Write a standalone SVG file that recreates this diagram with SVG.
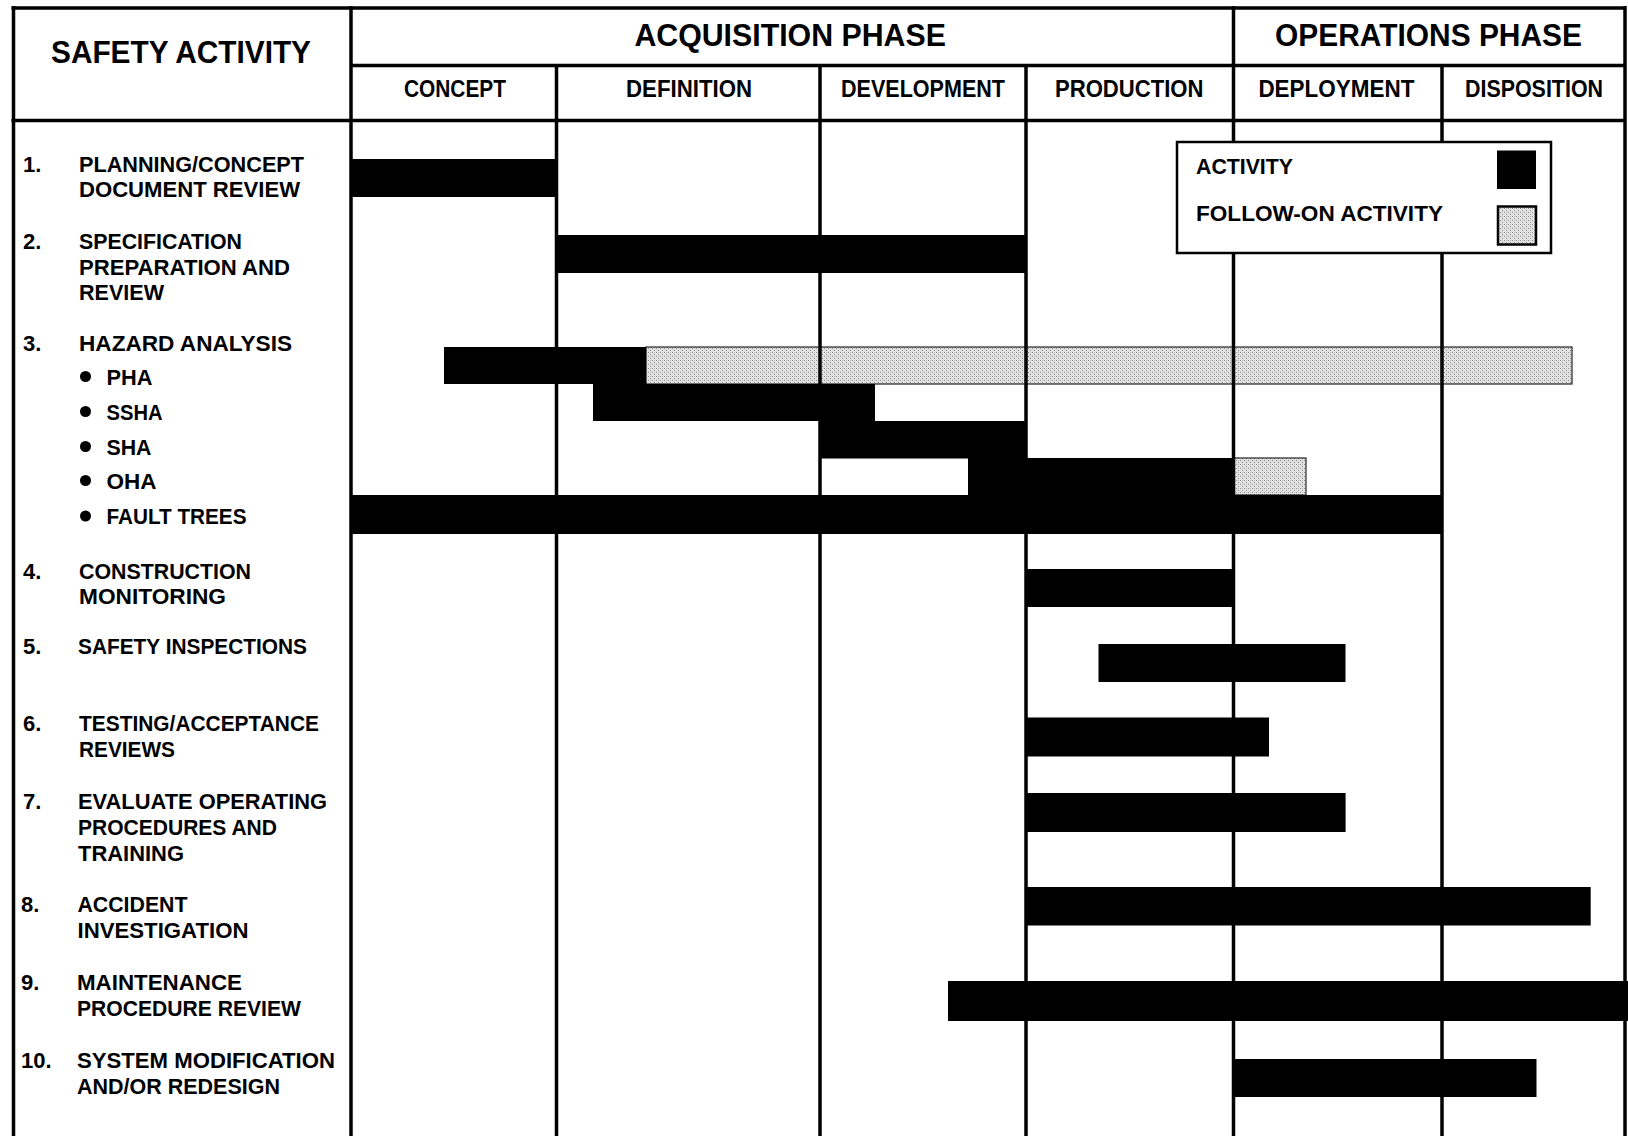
<svg xmlns="http://www.w3.org/2000/svg" width="1628" height="1136" viewBox="0 0 1628 1136">
  <style>
    text { font-family: "Liberation Sans", Arial, sans-serif; font-weight: 700; fill: #000; }
    .title { font-size: 32px; }
    .sub { font-size: 23px; }
    .lbl { font-size: 22px; }
    .leg { font-size: 22px; }
    .line { stroke: #000; stroke-width: 3.5; fill: none; }
    .bar { fill: #000; }
    .follow { fill: url(#stipple); stroke: #222; stroke-width: 1.2; }
  </style>
  <defs>
    <!-- halftone dot screen for follow-on activity -->
    <pattern id="stipple" width="4" height="4" patternUnits="userSpaceOnUse">
      <rect width="4" height="4" fill="#e2e2e2"/>
      <rect x="0" y="0" width="1" height="1" fill="#8a8a8a"/>
      <rect x="2" y="2" width="1" height="1" fill="#8a8a8a"/>
      <rect x="2" y="0" width="1" height="1" fill="#c4c4c4"/>
    </pattern>
  </defs>

  <rect width="1628" height="1136" fill="#fff"/>

  <!-- follow-on bars sit beneath the grid lines -->
  <g id="follow-on-bars">
    <rect class="follow" x="646" y="347" width="926" height="37"/>
    <rect class="follow" x="1233.5" y="458" width="72.5" height="37"/>
  </g>

  <!-- table frame and phase columns -->
  <g id="grid">
    <line class="line" x1="11.5" y1="8" x2="1626" y2="8"/>
    <line class="line" x1="351" y1="65.5" x2="1626" y2="65.5"/>
    <line class="line" x1="11.5" y1="120.5" x2="1626" y2="120.5"/>
    <line class="line" x1="13.5" y1="6" x2="13.5" y2="1136"/>
    <line class="line" x1="351" y1="6" x2="351" y2="1136"/>
    <line class="line" x1="556.5" y1="65.5" x2="556.5" y2="1136"/>
    <line class="line" x1="820" y1="65.5" x2="820" y2="1136"/>
    <line class="line" x1="1026" y1="65.5" x2="1026" y2="1136"/>
    <line class="line" x1="1233.5" y1="6" x2="1233.5" y2="1136"/>
    <line class="line" x1="1442" y1="65.5" x2="1442" y2="1136"/>
    <line class="line" x1="1625" y1="6" x2="1625" y2="1136"/>
  </g>

  <!-- column headings -->
  <g id="header">
    <text class="title" x="51" y="62.5" textLength="260" lengthAdjust="spacingAndGlyphs">SAFETY ACTIVITY</text>
    <text class="title" x="634.4" y="45.5" textLength="311.5" lengthAdjust="spacingAndGlyphs">ACQUISITION PHASE</text>
    <text class="title" x="1275" y="45.5" textLength="307" lengthAdjust="spacingAndGlyphs">OPERATIONS PHASE</text>
    <text class="sub" x="404" y="96.5" textLength="102" lengthAdjust="spacingAndGlyphs">CONCEPT</text>
    <text class="sub" x="626" y="96.5" textLength="126" lengthAdjust="spacingAndGlyphs">DEFINITION</text>
    <text class="sub" x="841" y="96.5" textLength="164" lengthAdjust="spacingAndGlyphs">DEVELOPMENT</text>
    <text class="sub" x="1055" y="96.5" textLength="148.5" lengthAdjust="spacingAndGlyphs">PRODUCTION</text>
    <text class="sub" x="1258.4" y="96.5" textLength="156" lengthAdjust="spacingAndGlyphs">DEPLOYMENT</text>
    <text class="sub" x="1465" y="96.5" textLength="138" lengthAdjust="spacingAndGlyphs">DISPOSITION</text>
  </g>

  <!-- activity list -->
  <g id="activity-1">
    <text class="lbl" x="23" y="171.5">1.</text>
    <text class="lbl" x="79" y="171.5" textLength="225" lengthAdjust="spacingAndGlyphs">PLANNING/CONCEPT</text>
    <text class="lbl" x="79" y="197" textLength="221" lengthAdjust="spacingAndGlyphs">DOCUMENT REVIEW</text>
    <rect class="bar" x="351" y="159" width="206" height="38"/>
  </g>
  <g id="activity-2">
    <text class="lbl" x="23" y="249">2.</text>
    <text class="lbl" x="79" y="249" textLength="163" lengthAdjust="spacingAndGlyphs">SPECIFICATION</text>
    <text class="lbl" x="79" y="275" textLength="211" lengthAdjust="spacingAndGlyphs">PREPARATION AND</text>
    <text class="lbl" x="79" y="300" textLength="85" lengthAdjust="spacingAndGlyphs">REVIEW</text>
    <rect class="bar" x="556.5" y="235" width="469.5" height="38"/>
  </g>
  <g id="activity-3">
    <text class="lbl" x="23" y="351">3.</text>
    <text class="lbl" x="79" y="351" textLength="213" lengthAdjust="spacingAndGlyphs">HAZARD ANALYSIS</text>
    <circle cx="85.5" cy="376.5" r="5.5"/>
    <text class="lbl" x="106.5" y="384.5" textLength="46" lengthAdjust="spacingAndGlyphs">PHA</text>
    <circle cx="85.5" cy="411.5" r="5.5"/>
    <text class="lbl" x="106.5" y="419.5" textLength="56" lengthAdjust="spacingAndGlyphs">SSHA</text>
    <circle cx="85.5" cy="446.5" r="5.5"/>
    <text class="lbl" x="106.5" y="454.5" textLength="45" lengthAdjust="spacingAndGlyphs">SHA</text>
    <circle cx="85.5" cy="480.5" r="5.5"/>
    <text class="lbl" x="106.5" y="488.5" textLength="50" lengthAdjust="spacingAndGlyphs">OHA</text>
    <circle cx="85.5" cy="516" r="5.5"/>
    <text class="lbl" x="106.5" y="524" textLength="140" lengthAdjust="spacingAndGlyphs">FAULT TREES</text>
    <rect class="bar" x="444" y="347" width="202" height="37"/>
    <rect class="bar" x="593" y="384" width="282" height="37"/>
    <rect class="bar" x="820" y="421" width="206" height="37.5"/>
    <rect class="bar" x="968" y="458" width="265.5" height="37.5"/>
    <rect class="bar" x="351" y="495" width="1091" height="39"/>
  </g>
  <g id="activity-4">
    <text class="lbl" x="23" y="578.5">4.</text>
    <text class="lbl" x="79" y="578.5" textLength="172" lengthAdjust="spacingAndGlyphs">CONSTRUCTION</text>
    <text class="lbl" x="79" y="603.5" textLength="147" lengthAdjust="spacingAndGlyphs">MONITORING</text>
    <rect class="bar" x="1026" y="569" width="207.5" height="38"/>
  </g>
  <g id="activity-5">
    <text class="lbl" x="23" y="654">5.</text>
    <text class="lbl" x="78" y="654" textLength="229" lengthAdjust="spacingAndGlyphs">SAFETY INSPECTIONS</text>
    <rect class="bar" x="1098.5" y="644" width="247" height="38"/>
  </g>
  <g id="activity-6">
    <text class="lbl" x="23" y="731">6.</text>
    <text class="lbl" x="79" y="731" textLength="240" lengthAdjust="spacingAndGlyphs">TESTING/ACCEPTANCE</text>
    <text class="lbl" x="79" y="757" textLength="96" lengthAdjust="spacingAndGlyphs">REVIEWS</text>
    <rect class="bar" x="1026" y="717.5" width="243" height="39"/>
  </g>
  <g id="activity-7">
    <text class="lbl" x="23" y="808.5">7.</text>
    <text class="lbl" x="78" y="808.5" textLength="249" lengthAdjust="spacingAndGlyphs">EVALUATE OPERATING</text>
    <text class="lbl" x="78" y="834.5" textLength="199" lengthAdjust="spacingAndGlyphs">PROCEDURES AND</text>
    <text class="lbl" x="78" y="860.5" textLength="106" lengthAdjust="spacingAndGlyphs">TRAINING</text>
    <rect class="bar" x="1026" y="793" width="319.6" height="39"/>
  </g>
  <g id="activity-8">
    <text class="lbl" x="21" y="912">8.</text>
    <text class="lbl" x="77.5" y="912" textLength="110" lengthAdjust="spacingAndGlyphs">ACCIDENT</text>
    <text class="lbl" x="77.5" y="938" textLength="171" lengthAdjust="spacingAndGlyphs">INVESTIGATION</text>
    <rect class="bar" x="1026" y="887" width="564.7" height="38.5"/>
  </g>
  <g id="activity-9">
    <text class="lbl" x="21" y="990">9.</text>
    <text class="lbl" x="77" y="990" textLength="165" lengthAdjust="spacingAndGlyphs">MAINTENANCE</text>
    <text class="lbl" x="77" y="1016" textLength="224" lengthAdjust="spacingAndGlyphs">PROCEDURE REVIEW</text>
    <rect class="bar" x="948" y="981" width="680" height="40"/>
  </g>
  <g id="activity-10">
    <text class="lbl" x="21" y="1067.5">10.</text>
    <text class="lbl" x="77" y="1067.5" textLength="258" lengthAdjust="spacingAndGlyphs">SYSTEM MODIFICATION</text>
    <text class="lbl" x="77" y="1094" textLength="203" lengthAdjust="spacingAndGlyphs">AND/OR REDESIGN</text>
    <rect class="bar" x="1233.5" y="1059" width="303" height="38"/>
  </g>

  <!-- key -->
  <g id="legend">
    <rect x="1177" y="142" width="374" height="111" fill="#fff" stroke="#000" stroke-width="2.5"/>
    <text class="leg" x="1196" y="174.3" textLength="97" lengthAdjust="spacingAndGlyphs">ACTIVITY</text>
    <rect class="bar" x="1497" y="150.5" width="39" height="38.5"/>
    <text class="leg" x="1196" y="220.7" textLength="247" lengthAdjust="spacingAndGlyphs">FOLLOW-ON ACTIVITY</text>
    <rect x="1498" y="206.5" width="38" height="38" fill="url(#stipple)" stroke="#000" stroke-width="2.5"/>
  </g>
</svg>
